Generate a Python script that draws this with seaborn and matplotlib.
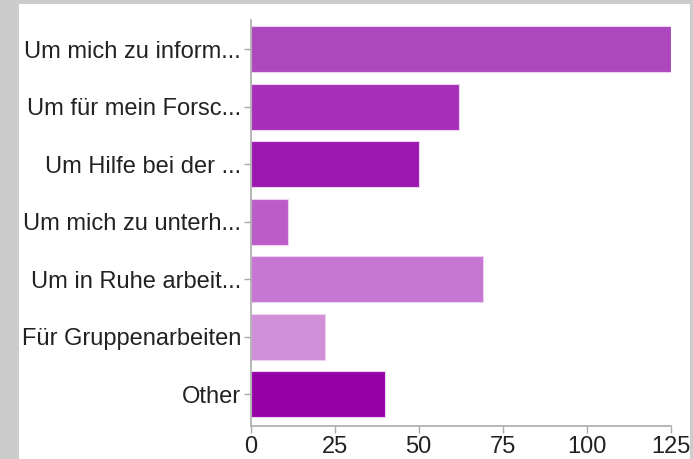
import matplotlib
matplotlib.use("Agg")
import matplotlib.pyplot as plt
import seaborn as sns
import pandas as pd
from matplotlib.patches import Rectangle

# data
labels = ["Um mich zu inform...", "Um für mein Forsc...", "Um Hilfe bei der ...",
          "Um mich zu unterh...", "Um in Ruhe arbeit...", "Für Gruppenarbeiten", "Other"]
counts = [125, 62, 50, 11, 69, 22, 40]
colors = ["#ad47bd", "#a72eb9", "#9c17b0", "#bb5cc8", "#c577d1", "#d08fd8", "#9500a6"]
xticks = [0, 25, 50, 75, 100, 125]

df = pd.DataFrame({"label": labels, "count": counts})

sns.set_style("white")
plt.rcParams["font.family"] = ["Liberation Sans", "DejaVu Sans"]

fig = plt.figure(figsize=(6.93, 4.59), dpi=100, facecolor="#cccccc")
# white panel inside the gray frame
fig.patches.append(Rectangle((19 / 693, 0), (690 - 19) / 693, 1 - 4 / 459,
                             transform=fig.transFigure, facecolor="white",
                             edgecolor="none", zorder=-10))

ax = fig.add_axes([250.7 / 693, 1 - 426 / 459, 420 / 693, 406 / 459])
ax.set_facecolor("none")
ax.set_zorder(5)

sns.barplot(data=df, x="count", y="label", hue="label", palette=colors,
            legend=False, width=0.8, ax=ax, orient="h", saturation=1,
            edgecolor="#ecd2f0", linewidth=0.8)

ax.set_xlim(0, 125)
ax.set_ylim(6.548, -0.513)
ax.set_xticks(xticks)
ax.set_xlabel("")
ax.set_ylabel("")

for side in ["top", "right"]:
    ax.spines[side].set_visible(False)
for side in ["left", "bottom"]:
    ax.spines[side].set_color("#aaaaaa")
    ax.spines[side].set_linewidth(1.2)

ax.tick_params(axis="both", which="both", length=5, width=1, color="#aaaaaa",
               labelsize=17, labelcolor="#222222", pad=2)
ax.tick_params(axis="x", bottom=True, direction="out")
ax.tick_params(axis="y", left=True, direction="out")

fig.savefig("out.png", dpi=100, facecolor=fig.get_facecolor())
